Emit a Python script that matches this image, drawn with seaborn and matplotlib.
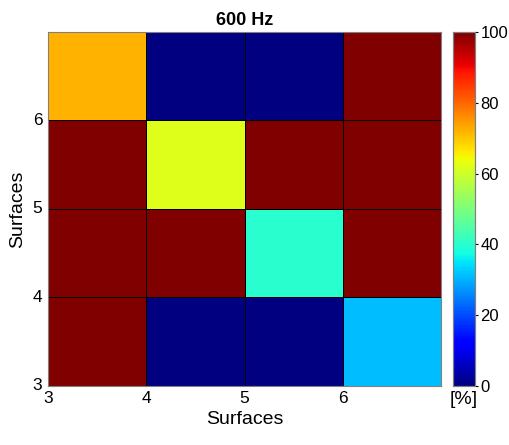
import numpy as np
import pandas as pd
import seaborn as sns
import matplotlib.pyplot as plt

# surfaces and recognition rate [%] at 600 Hz, rows listed top -> bottom
surfaces = [3, 4, 5, 6]
row_top = [72, 0, 0, 100]
row_2 = [100, 62, 100, 100]
row_3 = [100, 100, 40, 100]
row_bottom = [100, 0, 0, 31]
cbar_ticks = [0, 20, 40, 60, 80, 100]

sns.set_style('white')
plt.rcParams['font.family'] = ['Liberation Sans', 'DejaVu Sans']
plt.rcParams['text.color'] = 'black'
plt.rcParams['axes.labelcolor'] = 'black'
plt.rcParams['xtick.color'] = 'black'
plt.rcParams['ytick.color'] = 'black'

data = pd.DataFrame([row_top, row_2, row_3, row_bottom])

fig = plt.figure(figsize=(5.1, 4.45), dpi=100)
ax = fig.add_axes([0.094, 0.133, 0.771, 0.795])
cax = fig.add_axes([0.888, 0.133, 0.043, 0.795])

sns.heatmap(data, ax=ax, cbar_ax=cax, cmap='jet', vmin=0, vmax=100,
            linewidths=0.6, linecolor='black', square=False,
            cbar_kws={'ticks': cbar_ticks})

ax.set_xticks(np.arange(len(surfaces)))
ax.set_xticklabels(surfaces, fontsize=12.5, rotation=0)
ax.set_yticks(np.arange(len(surfaces), 0, -1))
ax.set_yticklabels(surfaces, fontsize=12.5, rotation=0)
ax.tick_params(length=0, pad=4)
ax.set_xlabel('Surfaces', fontsize=14, labelpad=3)
ax.set_ylabel('Surfaces', fontsize=14, labelpad=5)
ax.set_title('600 Hz', fontsize=13, fontweight='bold', pad=5)
for sp in ax.spines.values():
    sp.set_visible(True)
    sp.set_color('#808080')
    sp.set_linewidth(0.8)

cax.tick_params(labelsize=12, length=2, pad=2, colors='black')
for sp in cax.spines.values():
    sp.set_visible(True)
    sp.set_color('#808080')
    sp.set_linewidth(0.8)
cax.text(0.5, -0.015, '[%]', transform=cax.transAxes, ha='center', va='top',
         fontsize=14)

fig.savefig('out.png', dpi=100)
